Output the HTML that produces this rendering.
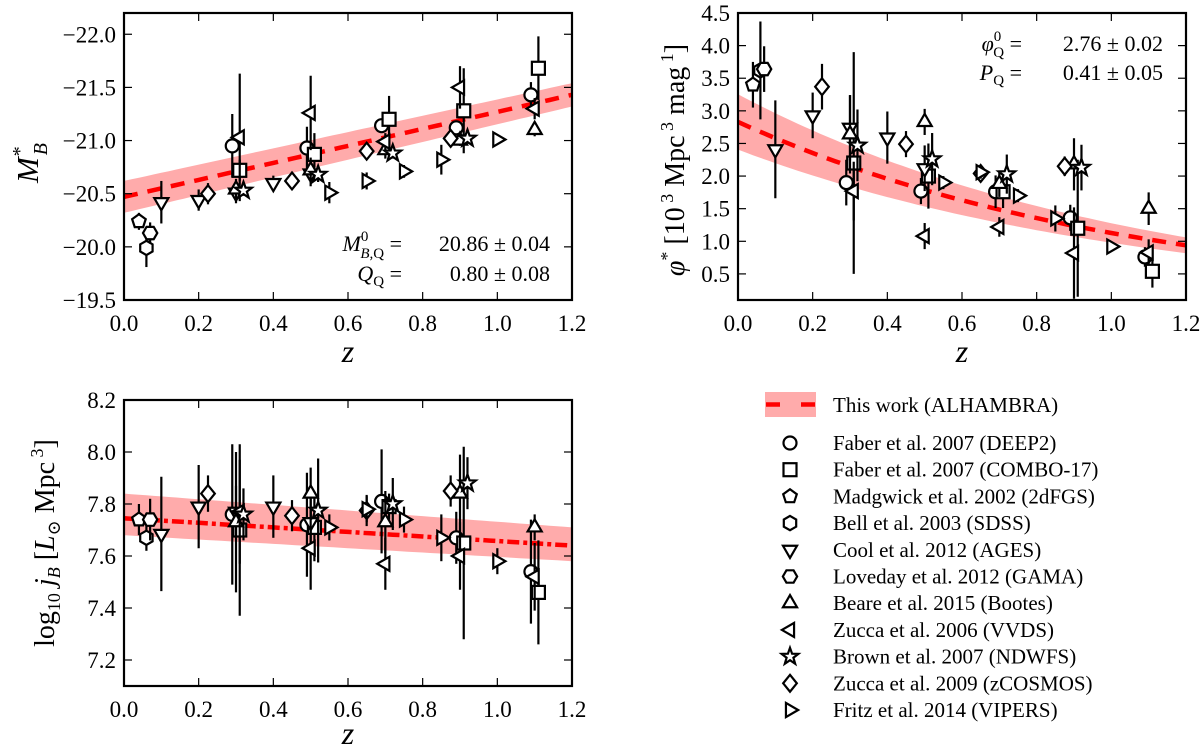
<!DOCTYPE html>
<html><head><meta charset="utf-8"><style>
html,body{margin:0;padding:0;background:#fff;}
svg{display:block;font-family:"Liberation Serif","DejaVu Serif",serif;}
svg text{font-family:"Liberation Serif","DejaVu Serif",serif;}
</style></head><body>
<svg id="chart" width="1200" height="749" viewBox="0 0 1200 749" xmlns="http://www.w3.org/2000/svg">
<rect width="1200" height="749" fill="#fff"/>
<text transform="translate(38,163) rotate(-90)" text-anchor="middle" font-size="31" font-style="italic">M<tspan font-size="20" dy="-12">*</tspan><tspan font-size="20" dy="21" dx="-8">B</tspan></text>
<text x="348" y="362" text-anchor="middle" font-size="32" font-style="italic">z</text>
<text transform="translate(684,160) rotate(-90)" text-anchor="middle" font-size="28"><tspan font-style="italic">φ</tspan><tspan font-size="18" dy="-11">*</tspan><tspan dy="11"> [10</tspan><tspan font-size="18" dy="-11">  3</tspan><tspan dy="11"> Mpc</tspan><tspan font-size="18" dy="-11">  3</tspan><tspan dy="11"> mag</tspan><tspan font-size="18" dy="-11">  1</tspan><tspan dy="11">]</tspan></text>
<text x="962" y="362" text-anchor="middle" font-size="32" font-style="italic">z</text>
<text transform="translate(54,543) rotate(-90)" text-anchor="middle" font-size="28">log<tspan font-size="18" dy="6">10</tspan><tspan dy="-6" font-style="italic"> j</tspan><tspan font-size="18" dy="6" font-style="italic">B</tspan><tspan dy="-6"> [</tspan><tspan font-style="italic">L</tspan><tspan font-size="18" dy="6">⊙</tspan><tspan dy="-6"> Mpc</tspan><tspan font-size="18" dy="-11">  3</tspan><tspan dy="11">]</tspan></text>
<text x="348" y="744" text-anchor="middle" font-size="32" font-style="italic">z</text>
<g font-size="22">
<text x="402" y="251" text-anchor="end"><tspan font-style="italic">M</tspan><tspan font-size="15" dy="-10">0</tspan><tspan font-size="15" dy="17" dx="-8" font-style="italic">B,</tspan><tspan font-size="15">Q</tspan><tspan dy="-7"> =</tspan></text>
<text x="550" y="251" text-anchor="end">20.86 ± 0.04</text>
<text x="402" y="281" text-anchor="end"><tspan font-style="italic">Q</tspan><tspan font-size="15" dy="5">Q</tspan><tspan dy="-5"> =</tspan></text>
<text x="550" y="281" text-anchor="end">0.80 ± 0.08</text>
</g>
<g font-size="22">
<text x="1022" y="51" text-anchor="end"><tspan font-style="italic">φ</tspan><tspan font-size="15" dy="-10">0</tspan><tspan font-size="15" dy="16" dx="-8">Q</tspan><tspan dy="-6"> =</tspan></text>
<text x="1163" y="51" text-anchor="end">2.76 ± 0.02</text>
<text x="1022" y="80" text-anchor="end"><tspan font-style="italic">P</tspan><tspan font-size="15" dy="5">Q</tspan><tspan dy="-5"> =</tspan></text>
<text x="1163" y="80" text-anchor="end">0.41 ± 0.05</text>
</g>
</svg>
<script>
const deep2Z=[0.29,0.49,0.69,0.89,1.09];
const comboZ=[0.31,0.51,0.71,0.91,1.11];
const madZ=[0.04];
const bellZ=[0.06];
const coolZ=[0.1,0.2,0.3,0.4,0.5];
const gamaZ=[0.07];
const beareZ=[0.3,0.5,0.7,0.9,1.1];
const vvdsZ=[0.31,0.5,0.7,0.9,1.1];
const ndwfsZ=[0.32,0.52,0.72,0.92];
const zcosZ=[0.225,0.45,0.65,0.875];
const vipersZ=[0.55,0.65,0.75,0.85,1.0];
const mbDeep2=[-20.95,-20.93,-21.14,-21.12,-21.43];
const mbDeep2Err=[0.3,0.2,0.05,0.05,0.12];
const mbCombo=[-20.72,-20.87,-21.2,-21.28,-21.68];
const mbComboErr=[0.1,0.2,0.22,0.4,0.3];
const mbMad=[-20.24];const mbMadErr=[0.08];
const mbBell=[-19.99];const mbBellErr=[0.18];
const mbCool=[-20.42,-20.44,-20.51,-20.6,-20.69];
const mbCoolErr=[0.2,0.1,0.1,0.07,0.12];
const mbGama=[-20.13];const mbGamaErr=[0.1];
const mbBeare=[-20.54,-20.72,-20.91,-21.0,-21.1];
const mbBeareErr=[0.1,0.12,0.08,0.05,0.06];
const mbVvds=[-21.03,-21.26,-20.99,-21.5,-21.3];
const mbVvdsErr=[0.6,0.35,0.08,0.2,0.1];
const mbNdwfs=[-20.53,-20.68,-20.88,-21.02];
const mbNdwfsErr=[0.05,0.07,0.05,0.05];
const mbZcos=[-20.5,-20.62,-20.9,-21.02];
const mbZcosErr=[0.1,0.08,0.08,0.05];
const mbVipers=[-20.51,-20.62,-20.71,-20.82,-21.01];
const mbVipersErr=[0.1,0.08,0.06,0.14,0.03];
const mbFit=[-20.47,-0.8];
const mbBand=[0.15,0.11];
const phDeep2=[1.9,1.77,1.76,1.36,0.76];
const phDeep2Err=[0.35,0.2,0.25,0.2,0.15];
const phCombo=[2.2,2.0,1.76,1.2,0.54];
const phComboErr=[1.7,0.5,0.25,1.05,0.25];
const phMad=[3.4];const phMadErr=[0.35];
const phBell=[3.62];const phBellErr=[0.75];
const phCool=[2.41,2.93,2.74,2.59,2.12];
const phCoolErr=[0.75,0.35,0.5,0.4,0.35];
const phGama=[3.64];const phGamaErr=[0.35];
const phBeare=[2.64,2.83,1.88,2.18,1.5];
const phBeareErr=[0.6,0.2,0.2,0.4,0.25];
const phVvds=[1.77,1.08,1.22,0.82,0.83];
const phVvdsErr=[0.45,0.2,0.15,0.7,0.2];
const phNdwfs=[2.47,2.26,2.03,2.13];
const phNdwfsErr=[0.55,0.4,0.3,0.35];
const phZcos=[3.37,2.49,2.04,2.15];
const phZcosErr=[0.35,0.2,0.1,0.15];
const phVipers=[1.9,2.06,1.7,1.35,0.92];
const phVipersErr=[0.1,0.1,0.1,0.2,0.05];
const phFit=[2.83,-0.92];
const phBand=[0.15,0.13];
const jbDeep2=[7.76,7.72,7.81,7.67,7.54];
const jbDeep2Err=[0.27,0.2,0.2,0.1,0.2];
const jbCombo=[7.7,7.71,7.79,7.65,7.46];
const jbComboErr=[0.33,0.13,0.05,0.37,0.2];
const jbMad=[7.74];const jbMadErr=[0.06];
const jbBell=[7.67];const jbBellErr=[0.05];
const jbCool=[7.685,7.79,7.77,7.79,7.73];
const jbCoolErr=[0.22,0.16,0.1,0.12,0.1];
const jbGama=[7.74];const jbGamaErr=[0.08];
const jbBeare=[7.73,7.84,7.73,7.84,7.71];
const jbBeareErr=[0.27,0.1,0.12,0.15,0.05];
const jbVvds=[7.77,7.63,7.57,7.6,7.52];
const jbVvdsErr=[0.2,0.16,0.1,0.13,0.13];
const jbNdwfs=[7.76,7.775,7.8,7.88];
const jbNdwfsErr=[0.1,0.2,0.1,0.1];
const jbZcos=[7.84,7.755,7.775,7.85];
const jbZcosErr=[0.07,0.06,0.06,0.06];
const jbVipers=[7.71,7.78,7.74,7.67,7.58];
const jbVipersErr=[0.05,0.05,0.05,0.09,0.05];
const jbFit=[7.745,-0.0875];
const jbBandLo=[7.68,7.58];
const jbBandHi=[7.84,7.71];
const xTicks=[0.0,0.2,0.4,0.6,0.8,1.0,1.2];
const p1Ticks=[-22.0,-21.5,-21.0,-20.5,-20.0,-19.5];
const p2Ticks=[0.5,1.0,1.5,2.0,2.5,3.0,3.5,4.0,4.5];
const p3Ticks=[7.2,7.4,7.6,7.8,8.0,8.2];
const legendLabels=["Faber et al. 2007 (DEEP2)","Faber et al. 2007 (COMBO-17)","Madgwick et al. 2002 (2dFGS)","Bell et al. 2003 (SDSS)","Cool et al. 2012 (AGES)","Loveday et al. 2012 (GAMA)","Beare et al. 2015 (Bootes)","Zucca et al. 2006 (VVDS)","Brown et al. 2007 (NDWFS)","Zucca et al. 2009 (zCOSMOS)","Fritz et al. 2014 (VIPERS)"];

const NS="http://www.w3.org/2000/svg";
const svg=document.getElementById('chart');
const FF='"Liberation Serif","DejaVu Serif",serif';
function mk(tag,attrs,parent){const e=document.createElementNS(NS,tag);for(const k in attrs)e.setAttribute(k,attrs[k]);(parent||svg).appendChild(e);return e;}
const shapes=['circle','square','pentagon','hexagon','tridown','hexflat','triup','trileft','star','diamond','triright'];
function poly(n,r,rot){let p=[];for(let i=0;i<n;i++){const a=rot+i*2*Math.PI/n;p.push((r*Math.cos(a)).toFixed(2)+','+(r*Math.sin(a)).toFixed(2));}return p.join(' ');}
function marker(g,shape,cx,cy,s){
  const st={fill:'#fff',stroke:'#000','stroke-width':2.2,transform:`translate(${cx},${cy})`};
  let e;const r=s;
  if(shape==='circle'){e=mk('circle',Object.assign({r:r},st),g);}
  else if(shape==='square'){e=mk('rect',Object.assign({x:-r,y:-r,width:2*r,height:2*r},st),g);}
  else if(shape==='pentagon'){e=mk('polygon',Object.assign({points:poly(5,r*1.1,-Math.PI/2)},st),g);}
  else if(shape==='hexagon'){e=mk('polygon',Object.assign({points:poly(6,r*1.1,-Math.PI/2)},st),g);}
  else if(shape==='hexflat'){e=mk('polygon',Object.assign({points:poly(6,r*1.1,0)},st),g);}
  else if(shape==='tridown'){e=mk('polygon',Object.assign({points:poly(3,r*1.25,Math.PI/2)},st),g);}
  else if(shape==='triup'){e=mk('polygon',Object.assign({points:poly(3,r*1.25,-Math.PI/2)},st),g);}
  else if(shape==='trileft'){e=mk('polygon',Object.assign({points:poly(3,r*1.25,Math.PI)},st),g);}
  else if(shape==='triright'){e=mk('polygon',Object.assign({points:poly(3,r*1.25,0)},st),g);}
  else if(shape==='diamond'){e=mk('polygon',Object.assign({points:`0,${-r*1.3} ${r*1.05},0 0,${r*1.3} ${-r*1.05},0`},st),g);}
  else if(shape==='star'){let p=[];for(let i=0;i<10;i++){const a=-Math.PI/2+i*Math.PI/5;const rr=i%2?r*0.55:r*1.35;p.push((rr*Math.cos(a)).toFixed(2)+','+(rr*Math.sin(a)).toFixed(2));}e=mk('polygon',Object.assign({points:p.join(' ')},st),g);}
  return e;
}
function fmt(v){const s=v.toFixed(1);return s.replace('-','−');}
function panel(name,box,yTop,yBot,yTicks,series,band,fitFn,dashStyle){
  const xs=z=>box.x0+z/1.2*(box.x1-box.x0);
  const ys=v=>box.y0+(v-yTop)/(yBot-yTop)*(box.y1-box.y0);
  const g=mk('g',{});
  
  
  const clipId=name+'-clip';
  const cp=mk('clipPath',{id:clipId},g);mk('rect',{x:box.x0,y:box.y0,width:box.x1-box.x0,height:box.y1-box.y0},cp);
  const plot=mk('g',{'clip-path':`url(#${clipId})`},g);
  let top=[],bot=[],line=[];
  for(let i=0;i<=60;i++){const z=i/60*1.2;const b=band(z);top.push(xs(z).toFixed(1)+','+ys(b[0]).toFixed(1));bot.unshift(xs(z).toFixed(1)+','+ys(b[1]).toFixed(1));line.push(xs(z).toFixed(1)+','+ys(fitFn(z)).toFixed(1));}
  const bd=mk('polygon',{points:top.concat(bot).join(' '),fill:'#f88',opacity:0.7},plot);
  
  
  const fl=mk('polyline',{points:line.join(' '),fill:'none',stroke:'#f00','stroke-width':4.5,'stroke-dasharray':dashStyle},plot);
  
  
  series.forEach((s,si)=>{
    const sg=mk('g',{},plot);
    
    
    s.z.forEach((z,i)=>{
      const v=s.v[i],e=s.e[i];
      const eb=mk('line',{x1:xs(z),x2:xs(z),y1:ys(v-e),y2:ys(v+e),stroke:'#000','stroke-width':2.2},sg);
      
      
      const m=marker(sg,shapes[si],xs(z),ys(v),6.5);
      
      
    });
  });
  const fr=mk('rect',{x:box.x0,y:box.y0,width:box.x1-box.x0,height:box.y1-box.y0,fill:'none',stroke:'#000','stroke-width':2.2},g);
  
  
  xTicks.forEach(t=>{
    const x=xs(t);
    mk('line',{x1:x,x2:x,y1:box.y1,y2:box.y1-8,stroke:'#000','stroke-width':1.2},g);
    mk('line',{x1:x,x2:x,y1:box.y0,y2:box.y0+8,stroke:'#000','stroke-width':1.2},g);
    const tl=mk('text',{x:x,y:box.y1+31,'text-anchor':'middle','font-size':23,'font-family':FF},g);
    tl.textContent=fmt(t);
    
    
  });
  yTicks.forEach(t=>{
    const y=ys(t);
    mk('line',{x1:box.x0,x2:box.x0+8,y1:y,y2:y,stroke:'#000','stroke-width':1.2},g);
    mk('line',{x1:box.x1,x2:box.x1-8,y1:y,y2:y,stroke:'#000','stroke-width':1.2},g);
    const tl=mk('text',{x:box.x0-8,y:y+8,'text-anchor':'end','font-size':23,'font-family':FF},g);
    tl.textContent=fmt(t);
    
    
  });
}
const ids=['deep2','combo17','2dfgs','sdss','ages','gama','bootes','vvds','ndwfs','zcosmos','vipers'];
const zs=[deep2Z,comboZ,madZ,bellZ,coolZ,gamaZ,beareZ,vvdsZ,ndwfsZ,zcosZ,vipersZ];
function build(vals,errs){return ids.map((id,i)=>({id:id,z:zs[i],v:vals[i],e:errs[i]}));}
panel('panel-absolute-magnitude',{x0:124,x1:572,y0:13,y1:300},-22.2,-19.5,p1Ticks,
  build([mbDeep2,mbCombo,mbMad,mbBell,mbCool,mbGama,mbBeare,mbVvds,mbNdwfs,mbZcos,mbVipers],[mbDeep2Err,mbComboErr,mbMadErr,mbBellErr,mbCoolErr,mbGamaErr,mbBeareErr,mbVvdsErr,mbNdwfsErr,mbZcosErr,mbVipersErr]),
  z=>{const f=mbFit[0]+mbFit[1]*z;const w=mbBand[0]+(mbBand[1]-mbBand[0])*z/1.2;return [f-w,f+w];},
  z=>mbFit[0]+mbFit[1]*z,'14,10');
panel('panel-density',{x0:738,x1:1186,y0:13,y1:300},4.5,0.1,p2Ticks,
  build([phDeep2,phCombo,phMad,phBell,phCool,phGama,phBeare,phVvds,phNdwfs,phZcos,phVipers],[phDeep2Err,phComboErr,phMadErr,phBellErr,phCoolErr,phGamaErr,phBeareErr,phVvdsErr,phNdwfsErr,phZcosErr,phVipersErr]),
  z=>{const f=phFit[0]*Math.exp(phFit[1]*z);const w=phBand[0]+(phBand[1]-phBand[0])*z/1.2;return [f*(1+w),f*(1-w)];},
  z=>phFit[0]*Math.exp(phFit[1]*z),'14,10');
panel('panel-luminosity-density',{x0:124,x1:572,y0:400,y1:686},8.2,7.1,p3Ticks,
  build([jbDeep2,jbCombo,jbMad,jbBell,jbCool,jbGama,jbBeare,jbVvds,jbNdwfs,jbZcos,jbVipers],[jbDeep2Err,jbComboErr,jbMadErr,jbBellErr,jbCoolErr,jbGamaErr,jbBeareErr,jbVvdsErr,jbNdwfsErr,jbZcosErr,jbVipersErr]),
  z=>{const t=z/1.2;return [jbBandHi[0]+(jbBandHi[1]-jbBandHi[0])*t,jbBandLo[0]+(jbBandLo[1]-jbBandLo[0])*t];},
  z=>jbFit[0]+jbFit[1]*z,'12,4,4,4');
const lg=mk('g',{});


const lp=mk('rect',{x:765,y:392,width:51,height:25,fill:'#f88',opacity:0.7},lg);


mk('line',{x1:766,x2:815,y1:404.5,y2:404.5,stroke:'#f00','stroke-width':4.5,'stroke-dasharray':'14,21'},lg);
const lt=mk('text',{x:833,y:412,'font-size':21,'font-family':FF},lg);
lt.textContent='This work (ALHAMBRA)';


legendLabels.forEach((lab,i)=>{
  const y=443+i*26.7;
  const m=marker(lg,shapes[i],790,y,6.5);
  
  
  const t=mk('text',{x:833,y:y+7,'font-size':21,'font-family':FF},lg);
  t.textContent=lab;
  
  
});
</script>
</body></html>
